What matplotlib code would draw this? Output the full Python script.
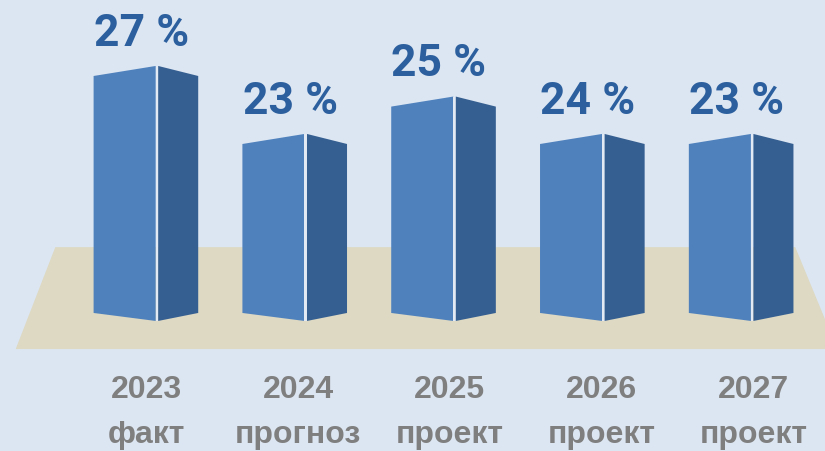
import matplotlib.pyplot as plt
from matplotlib.patches import Polygon

# Данные
years = ["2023", "2024", "2025", "2026", "2027"]
stages = ["факт", "прогноз", "проект", "проект", "проект"]
value_labels = ["27 %", "23 %", "25 %", "24 %", "23 %"]
bar_heights = [27, 23, 25.2, 23, 23]   # высота столбцов, как на картинке
BASE = 12.0                            # нижний край столбцов

# Цвета
bg = "#dce6f2"
floor_c = "#ddd9c3"
front_c = "#4f81bd"
side_c = "#365f91"
label_c = "#2c5f9e"
gray_c = "#7f7f7f"

fig = plt.figure(figsize=(8.25, 4.51), dpi=100, facecolor=bg)
ax = fig.add_axes([0, 0, 1, 1])
ax.set_xlim(-0.979, 4.565)
ax.set_ylim(4.35, 30.88)
ax.axis("off")

# "пол" под столбцами
floor = Polygon([(0.067, 0.452), (0.964, 0.452), (1.015, 0.226), (0.019, 0.226)],
                closed=True, transform=ax.transAxes, facecolor=floor_c,
                edgecolor="none", zorder=0)
ax.add_patch(floor)

# размеры объёмных столбцов
front_w = 0.417
gap = 0.017
side_w = 0.269
d_top = 0.59
d_bot = 0.47

for i, h in enumerate(bar_heights):
    xl = i - 0.35
    xp = xl + front_w
    xs = xp + gap
    xr = xs + side_w
    front = Polygon([(xl, h - d_top), (xp, h), (xp, BASE), (xl, BASE + d_bot)],
                    closed=True, facecolor=front_c, edgecolor="none", zorder=2)
    gap_p = Polygon([(xp, h), (xs, h), (xs, BASE), (xp, BASE)],
                    closed=True, facecolor="#e3eaf3", edgecolor="none", zorder=2)
    side = Polygon([(xs, h), (xr, h - d_top), (xr, BASE + d_bot), (xs, BASE)],
                   closed=True, facecolor=side_c, edgecolor="none", zorder=2)
    ax.add_patch(front)
    ax.add_patch(gap_p)
    ax.add_patch(side)
    ax.text(i - 0.03, h + 1.2, value_labels[i], ha="center", va="baseline",
            fontsize=32, fontweight="bold", family="Roboto", color=label_c)

# подписи категорий
for i in range(len(years)):
    xi = 0.005 + 1.0195 * i
    ax.text(xi, 7.47, years[i], ha="center", va="baseline", fontsize=23,
            fontweight="bold", family="Liberation Sans", color=gray_c)
    ax.text(xi, 4.82, stages[i], ha="center", va="baseline", fontsize=23,
            fontweight="bold", family="Liberation Sans", color=gray_c)

fig.savefig("out.png", dpi=100, facecolor=bg)
